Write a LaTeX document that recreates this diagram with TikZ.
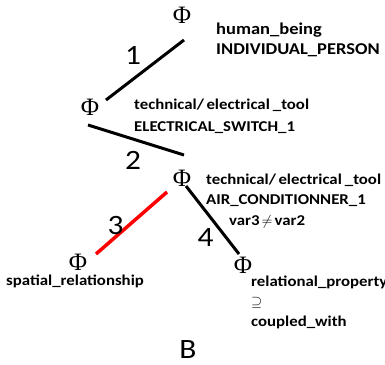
\documentclass[tikz,border=0pt]{standalone}
\usepackage{fontspec}
\setmainfont{Carlito}
\newfontfamily\lblfont[FakeStretch=1.12]{Carlito}
\newfontfamily\phifont{Liberation Serif}
\usetikzlibrary{positioning,calc}

\begin{document}
\begin{tikzpicture}[x=1pt,y=-1pt,
 phi/.style={font=\phifont\fontsize{25}{25}\selectfont,inner sep=0pt},
 lbl/.style={font=\lblfont\bfseries\fontsize{16.5}{20}\selectfont,align=left,inner sep=0pt,anchor=west},
 sml/.style={lbl,font=\lblfont\bfseries\fontsize{15}{20}\selectfont},
 num/.style={font=\lblfont\fontsize{28}{28}\selectfont,inner sep=0pt,text=black},
 edge/.style={line width=3pt},
 hot/.style={edge,red,line width=3.5pt}]
\useasboundingbox (0,0) rectangle (385,364);
\node[phi] (phiA) at (182,15) {Φ};
\node[phi] (phiB) at (90,107) {Φ};
\node[phi] (phiC) at (182,178) {Φ};
\node[phi] (phiD) at (78,262) {Φ};
\node[phi] (phiE) at (243,265) {Φ};
\node[lbl] (txtA) at (216,40) {human\_being\\INDIVIDUAL\_PERSON};
\node[sml] (txtB) at (134,116) {technical/\hspace{2.5pt}electrical\hspace{3pt}\_tool\\[2pt]ELECTRICAL\_SWITCH\_1};
\node[sml] (txtC) at (206,190) {technical/\hspace{2.5pt}electrical\hspace{3pt}\_tool\\AIR\_CONDITIONNER\_1};
\node[sml] (neq) at (229,222) {var3\kern2pt$\neq$\kern2pt var2};
\node[sml,anchor=center] (txtD) at (75,281) {spatial\_relationship};
\node[sml] (txtE) at (251,302) {relational\_property\\$\supseteq$\\coupled\_with};
\node[num] (capB) at (188,350) {B};
\draw[edge] ([shift={(2,25)}]phiA.center) -- node[num,xshift=-12pt,yshift=15pt] {1} ([shift={(16,-7)}]phiB.center);
\draw[edge] ([shift={(-2,18)}]phiB.center) -- node[num,xshift=-3pt,yshift=-20pt] {2} ([shift={(2,-23)}]phiC.center);
\draw[hot] ([shift={(-15,14)}]phiC.center) -- node[num,xshift=-16pt,yshift=-3pt] {3} ([shift={(18,-8)}]phiD.center);
\draw[edge] ([shift={(4,8)}]phiC.center) -- node[num,xshift=-7pt,yshift=-18pt] {4} ([shift={(-4,-11)}]phiE.center);
\end{tikzpicture}
\end{document}
